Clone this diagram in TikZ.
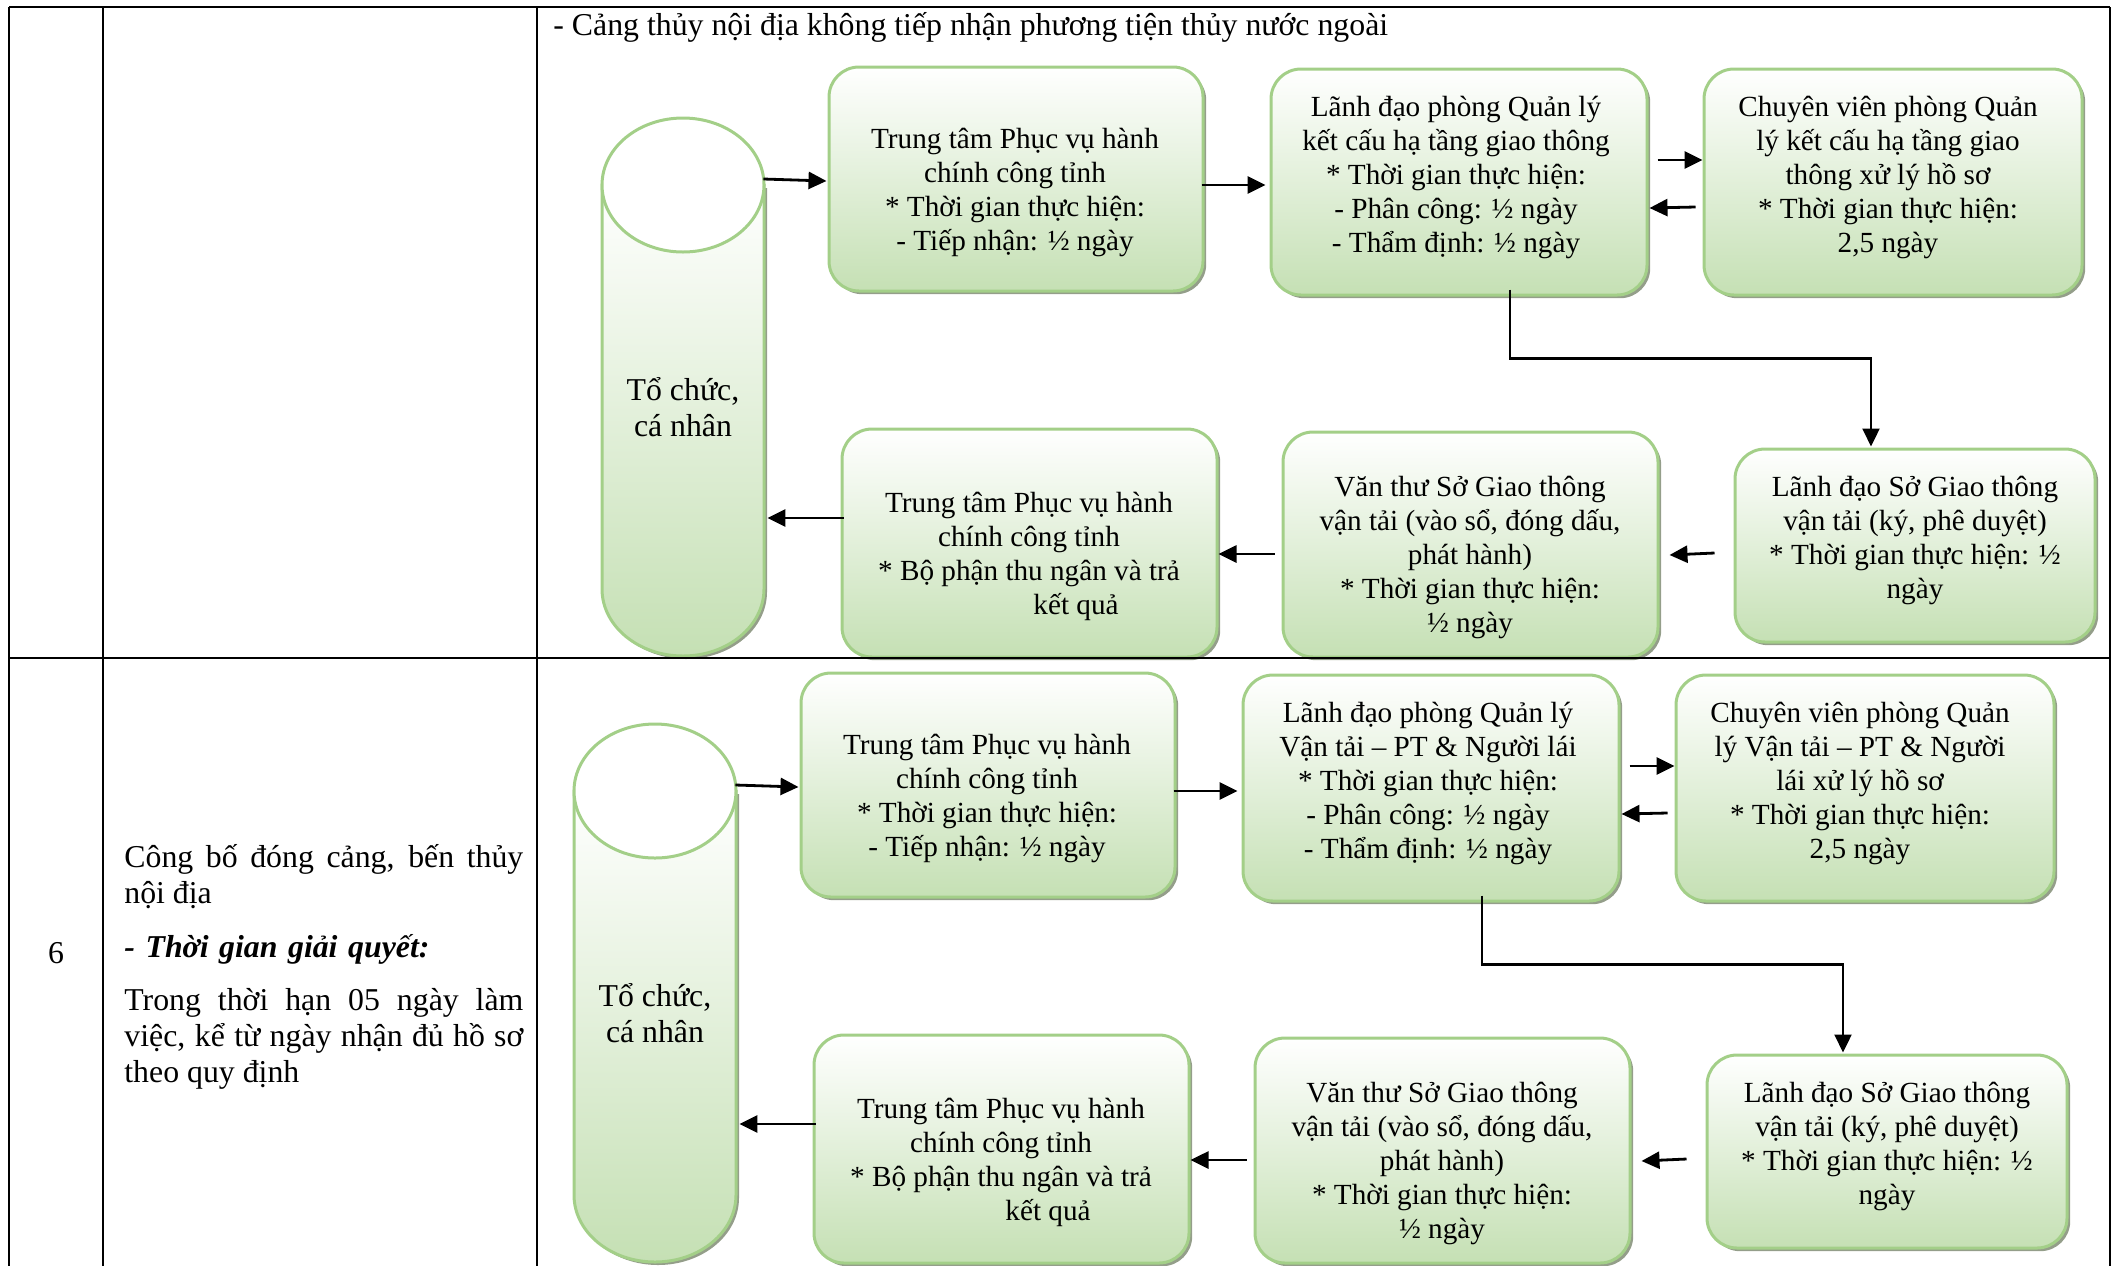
\documentclass[tikz,border=0pt]{standalone}
\usepackage{fontspec}
\setmainfont{Liberation Serif}
\usetikzlibrary{arrows.meta,calc,shadows}
\definecolor{boxgreen}{RGB}{197,224,180}
\definecolor{boxborder}{RGB}{163,207,136}
\definecolor{shadowcol}{RGB}{148,158,138}
\newcommand\boxfont{\fontsize{14.6pt}{17pt}\selectfont}
\newcommand\bigfont{\fontsize{15.9pt}{18pt}\selectfont}
\tikzset{
  flowbox/.style={draw=boxborder, line width=1.5pt, rounded corners=15pt, top color=white, bottom color=boxgreen, inner sep=0pt,
    drop shadow={shadow xshift=1.6pt, shadow yshift=-1.6pt, fill=shadowcol, opacity=1}},
  boxtxt/.style={align=center, font=\boxfont, inner sep=0pt, yshift=-1pt},
  bigtxt/.style={font=\bigfont, inner sep=0pt},
  arr/.style={draw=black, line width=1.4pt, -{Triangle[length=9pt,width=8.5pt]}},
  ghost/.style={inner sep=0pt, draw=none},
  tbl/.style={line width=1.4pt, black},
}
\newcommand\flowrow[3]{%
  \fill[shadowcol] (605,188) -- (605,592) .. controls (605,629) and (641.3,659) .. (686,659) .. controls (730.7,659) and (767,629) .. (767,592) -- (767,188) -- cycle;
  \shadedraw[top color=white, bottom color=boxgreen, draw=boxborder, line width=1.5pt] (602,185) -- (602,589) .. controls (602,626) and (638.3,656) .. (683,656) .. controls (727.7,656) and (764,626) .. (764,589) -- (764,185) -- cycle;
  \filldraw[fill=white, draw=boxborder, line width=1.5pt] (683,185) ellipse [x radius=40.5pt, y radius=33.5pt];
  \node[ghost, minimum width=81pt, minimum height=269pt] (cyl#1) at (683,387) {};
  \node[bigtxt, align=center] (cyt#1) at (683,407) {Tổ chức,\\cá nhân};
  \node[flowbox, minimum width=187pt, minimum height=112pt] (a#1) at (1016,179) {};
  \node[boxtxt] (at#1) at (1015,190) {Trung tâm Phục vụ hành\\chính công tỉnh\\* Thời gian thực hiện:\\- Tiếp nhận: ½ ngày};
  \node[flowbox, minimum width=188pt, minimum height=113pt] (b#1) at (1459,182) {};
  \node[boxtxt] (bt#1) at (1456,175) {#2};
  \node[flowbox, minimum width=189pt, minimum height=113pt] (c#1) at (1893,182) {};
  \node[boxtxt] (ct#1) at (1888,175) {#3};
  \node[flowbox, minimum width=180pt, minimum height=96.5pt] (d#1) at (1915,545.5) {};
  \node[boxtxt] (dt#1) at (1915,538.5) {Lãnh đạo Sở Giao thông\\vận tải (ký, phê duyệt)\\* Thời gian thực hiện: ½\\ngày};
  \node[flowbox, minimum width=187.5pt, minimum height=112.5pt] (e#1) at (1470.5,544.5) {};
  \node[boxtxt] (et#1) at (1470,555) {Văn thư Sở Giao thông\\vận tải (vào sổ, đóng dấu,\\phát hành)\\* Thời gian thực hiện:\\½ ngày};
  \node[flowbox, minimum width=187.5pt, minimum height=114pt] (f#1) at (1029.5,543) {};
  \node[boxtxt] (ft#1) at (1029,554) {Trung tâm Phục vụ hành\\chính công tỉnh\\* Bộ phận thu ngân và trả\\\hspace*{47pt}kết quả};
  \draw[arr] ($(cyl#1.east)+(-1,-208)$) -- ($(a#1.west)+(-1,2)$);
  \draw[arr] ($(a#1.east)+(-3,6)$) -- ($(b#1.west)+(-4,3)$);
  \draw[arr] ($(b#1.east)+(9,-22)$) -- ($(c#1.west)+(0,-22)$);
  \draw[arr] ($(c#1.west)+(-7,25)$) -- ($(b#1.east)+(1,26)$);
  \draw[arr, line width=1.1pt] ($(b#1.south)+(51,-7)$) |- ($(d#1.north)+(-44,-89)$) -- ($(d#1.north)+(-44,-1)$);
  \draw[arr] ($(d#1.west)+(-19,7.5)$) -- ($(e#1.east)+(10,10.5)$);
  \draw[arr] ($(e#1.west)+(-7,9.5)$) -- ($(f#1.east)+(0,11)$);
  \draw[arr] ($(f#1.west)+(3,-25)$) -- ($(cyl#1.east)+(3,131)$);
}
\begin{document}
\begin{tikzpicture}[x=0.5pt, y=-0.5pt]
\useasboundingbox (0,0) rectangle (2114,1265);
\begin{scope}
\flowrow{1}{Lãnh đạo phòng Quản lý\\kết cấu hạ tầng giao thông\\* Thời gian thực hiện:\\- Phân công: ½ ngày\\- Thẩm định: ½ ngày}{Chuyên viên phòng Quản\\lý kết cấu hạ tầng giao\\thông xử lý hồ sơ\\* Thời gian thực hiện:\\2,5 ngày}
\end{scope}
\begin{scope}[shift={(-28,606)}]
\flowrow{2}{Lãnh đạo phòng Quản lý\\Vận tải – PT \& Người lái\\* Thời gian thực hiện:\\- Phân công: ½ ngày\\- Thẩm định: ½ ngày}{Chuyên viên phòng Quản\\lý Vận tải – PT \& Người\\lái xử lý hồ sơ\\* Thời gian thực hiện:\\2,5 ngày}
\end{scope}
\node[bigtxt, anchor=west] (hdr) at (553,27) {- Cảng thủy nội địa không tiếp nhận phương tiện thủy nước ngoài};
\node[bigtxt] (num) at (56,953) {6};
\node[bigtxt, text width=199.5pt, align=justify, anchor=north west] (p1) at (124,844) {\hyphenpenalty=10000 Công bố đóng cảng, bến thủy\linebreak nội địa};
\node[bigtxt, text width=199.5pt, align=left, anchor=north west] (p2) at (124,934) {\textbf{\textit{- Thời gian giải quyết:}}};
\node[bigtxt, text width=199.5pt, align=justify, anchor=north west] (p3) at (124,988) {\hyphenpenalty=10000 Trong thời hạn 05 ngày làm\linebreak việc, kể từ ngày nhận đủ hồ sơ\linebreak theo quy định};
\draw[tbl] (9,7) -- (2110,7);
\draw[tbl] (9,658) -- (2110,658);
\draw[tbl] (9,7) -- (9,1270);
\draw[tbl] (103,7) -- (103,1270);
\draw[tbl] (537,7) -- (537,1270);
\draw[tbl] (2110,7) -- (2110,1270);
\end{tikzpicture}
\end{document}
